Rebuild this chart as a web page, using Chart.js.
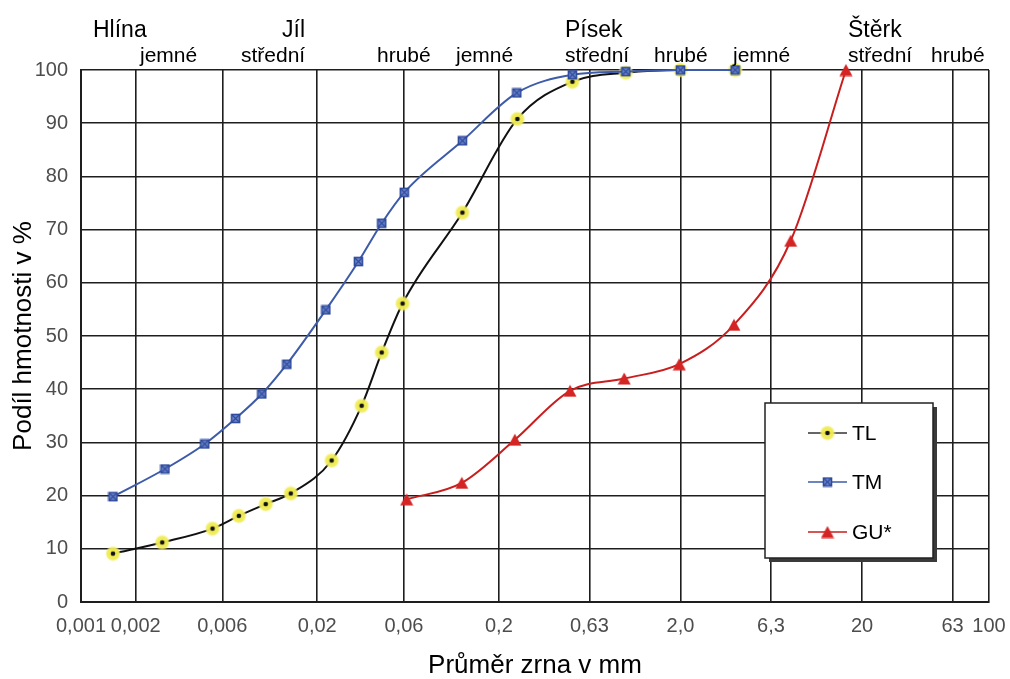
<!DOCTYPE html>
<html><head><meta charset="utf-8">
<script src="https://cdn.jsdelivr.net/npm/chart.js@4"></script>
<style>html,body{margin:0;padding:0;background:#fff}#wrap{width:1010px;height:679px}</style>
</head><body><div id="wrap"><canvas id="c" width="1010" height="679"></canvas></div>
<script>
// ---- data ----
const tickValues = [0.001, 0.002, 0.006, 0.02, 0.06, 0.2, 0.63, 2, 6.3, 20, 63, 100];
const tickLabels = ['0,001', '0,002', '0,006', '0,02', '0,06', '0,2', '0,63', '2,0', '6,3', '20', '63', '100'];

const seriesNames = ['TL', 'TM', 'GU*'];

const tlX = [0.0015, 0.0028, 0.0053, 0.0074, 0.0104, 0.0143, 0.024, 0.0351, 0.0453, 0.059, 0.126, 0.253, 0.508, 1.0, 2.0, 4.0];
const tlY = [9.1, 11.2, 13.8, 16.2, 18.4, 20.4, 26.6, 36.9, 46.9, 56.1, 73.2, 90.8, 97.8, 99.5, 100, 100];

const tmX = [0.0015, 0.0029, 0.0048, 0.0071, 0.0099, 0.0136, 0.0223, 0.0337, 0.0453, 0.0603, 0.126, 0.251, 0.508, 1.0, 2.0, 4.0];
const tmY = [19.8, 25.0, 29.7, 34.5, 39.1, 44.7, 54.9, 64.0, 71.2, 77.0, 86.7, 95.7, 99.1, 99.7, 100, 100];

const guX = [0.0621, 0.125, 0.245, 0.493, 0.98, 1.97, 3.94, 8.09, 16.3];
const guY = [19.3, 22.4, 30.5, 39.7, 42.0, 44.7, 52.1, 67.9, 100];

const classTop = ['Hlína', 'Jíl', 'Písek', 'Štěrk'];
const classSub = ['jemné', 'střední', 'hrubé', 'jemné', 'střední', 'hrubé', 'jemné', 'střední', 'hrubé'];

const yTitle = 'Podíl hmotnosti v %';
const xTitle = 'Průměr zrna v mm';

// ---- marker images ----
function mk(w, h, fn) { const c = document.createElement('canvas'); c.width = w; c.height = h; fn(c.getContext('2d')); return c; }
const tlMarker = mk(16, 16, g => {
  const gr = g.createRadialGradient(8, 8, 1, 8, 8, 8);
  gr.addColorStop(0, 'rgba(238,234,70,1)'); gr.addColorStop(0.7, 'rgba(240,236,90,0.95)'); gr.addColorStop(1, 'rgba(245,242,140,0)');
  g.fillStyle = gr; g.beginPath(); g.arc(8, 8, 8, 0, Math.PI * 2); g.fill();
  g.fillStyle = '#111'; g.beginPath(); g.arc(8, 8, 2.3, 0, Math.PI * 2); g.fill();
});
const tmMarker = mk(11, 11, g => {
  g.fillStyle = '#6d86cc'; g.fillRect(1, 1, 9, 9);
  g.strokeStyle = '#2f4b9c'; g.lineWidth = 1.6; g.strokeRect(1.5, 1.5, 8, 8);
  g.beginPath(); g.moveTo(2, 2); g.lineTo(9, 9); g.moveTo(9, 2); g.lineTo(2, 9); g.lineWidth = 1.2; g.stroke();
});
const guMarker = mk(14, 13, g => {
  g.fillStyle = '#d42424'; g.beginPath(); g.moveTo(7, 0.5); g.lineTo(13.5, 12.5); g.lineTo(0.5, 12.5); g.closePath(); g.fill();
});

const pts = (xs, ys) => xs.map((x, i) => ({ x: x, y: ys[i] }));

const styles = [
  { color: '#111111', marker: tlMarker, legendLine: '#333' },
  { color: '#3d5ba9', marker: tmMarker, legendLine: '#3d5ba9' },
  { color: '#c81e1e', marker: guMarker, legendLine: '#c81e1e' }
];

// ---- custom plugin: header labels + legend box ----
const deco = {
  id: 'deco',
  afterDraw(chart) {
    const ctx = chart.ctx;
    ctx.save();
    ctx.fillStyle = '#000';
    ctx.textBaseline = 'alphabetic';
    ctx.textAlign = 'left';
    const ox = chart.chartArea.left - 81;
    ctx.font = '23px "Liberation Sans", Arial, sans-serif';
    const topX = [93, 282, 565, 848];
    classTop.forEach((t, i) => ctx.fillText(t, topX[i] + ox, 37));
    ctx.font = '21px "Liberation Sans", Arial, sans-serif';
    const subX = [140, 241, 377, 456, 565, 654, 733, 848, 931];
    classSub.forEach((t, i) => ctx.fillText(t, subX[i] + ox, 62));

    // legend box
    const bx = 765 + ox, by = 403, bw = 168, bh = 155;
    ctx.fillStyle = '#3a3a3a';
    ctx.fillRect(bx + 4, by + 4, bw, bh);
    ctx.fillStyle = '#fff';
    ctx.fillRect(bx, by, bw, bh);
    ctx.strokeStyle = '#222'; ctx.lineWidth = 1.5;
    ctx.strokeRect(bx, by, bw, bh);
    const rows = [433, 482, 532];
    ctx.font = '21px "Liberation Sans", Arial, sans-serif';
    ctx.textBaseline = 'middle';
    chart.data.datasets.forEach((ds, i) => {
      const y = rows[i];
      ctx.strokeStyle = styles[i].legendLine; ctx.lineWidth = 1.3;
      ctx.beginPath(); ctx.moveTo(bx + 43, y); ctx.lineTo(bx + 82, y); ctx.stroke();
      const m = styles[i].marker;
      ctx.drawImage(m, bx + 62.5 - m.width / 2, y - m.height / 2);
      ctx.fillStyle = '#000';
      ctx.fillText(ds.label, bx + 87, y + 1);
    });
    ctx.restore();
  }
};

const mkDs = (i, xs, ys, order) => ({
  label: seriesNames[i],
  data: pts(xs, ys),
  borderColor: styles[i].color,
  backgroundColor: styles[i].color,
  borderWidth: 2,
  pointStyle: styles[i].marker,
  pointRadius: 6,
  cubicInterpolationMode: 'monotone',
  clip: false,
  order: order
});

new Chart(document.getElementById('c'), {
  type: 'line',
  data: {
    datasets: [
      mkDs(0, tlX, tlY, 1),
      mkDs(1, tmX, tmY, 0),
      mkDs(2, guX, guY, 2)
    ]
  },
  options: {
    responsive: false,
    devicePixelRatio: 1,
    animation: false,
    layout: { padding: { left: 0, right: 21, top: 70, bottom: 0 } },
    plugins: { legend: { display: false }, tooltip: { enabled: false } },
    scales: {
      x: {
        type: 'logarithmic',
        min: 0.001, max: 100,
        afterBuildTicks: s => { s.ticks = tickValues.map(v => ({ value: v })); },
        afterFit: s => { s.height = 77; s.paddingLeft = 0; s.paddingRight = 0; },
        ticks: {
          autoSkip: false, maxRotation: 0, minRotation: 0,
          padding: 12, color: '#4d4d4d',
          font: { family: '"Liberation Sans", Arial, sans-serif', size: 20 },
          callback: (v, i) => tickLabels[i]
        },
        grid: { color: '#1e1e1e', lineWidth: 1.6, drawTicks: false },
        border: { display: true, color: '#1e1e1e', width: 2 },
        title: {
          display: true, text: xTitle, color: '#000',
          font: { family: '"Liberation Sans", Arial, sans-serif', size: 26, lineHeight: 1 },
          padding: { top: 0, bottom: 0 }
        }
      },
      y: {
        min: 0, max: 100,
        afterFit: s => { s.width = 81; },
        ticks: {
          stepSize: 10, padding: 13, color: '#4d4d4d',
          font: { family: '"Liberation Sans", Arial, sans-serif', size: 20 }
        },
        grid: { color: '#1e1e1e', lineWidth: 1.6, drawTicks: false },
        border: { display: true, color: '#1e1e1e', width: 2 },
        title: {
          display: true, text: yTitle, color: '#000',
          font: { family: '"Liberation Sans", Arial, sans-serif', size: 26, lineHeight: 1 },
          padding: { top: 11, bottom: 0 }
        }
      }
    }
  },
  plugins: [deco]
});
</script>
</body></html>
